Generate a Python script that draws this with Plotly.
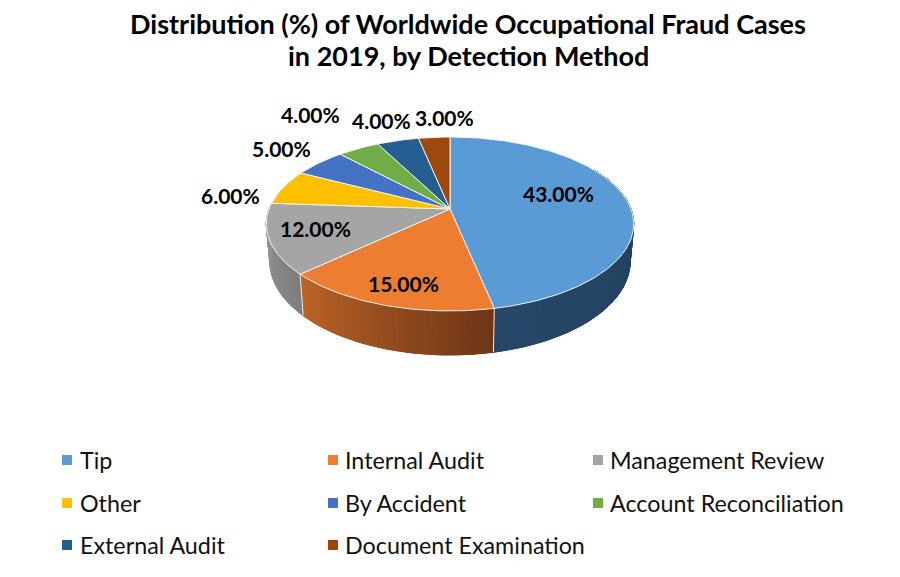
import math

import plotly.graph_objects as go

title_lines = [
    "Distribution (%) of Worldwide Occupational Fraud Cases",
    "in 2019, by Detection Method",
]

categories = [
    "Tip",
    "Internal Audit",
    "Management Review",
    "Other",
    "By Accident",
    "Account Reconciliation",
    "External Audit",
    "Document Examination",
]
values = [43, 15, 12, 6, 5, 4, 4, 3]

colors = ["#5B9BD5", "#ED7D31", "#A5A5A5", "#FFC000", "#4472C4", "#70AD47", "#255E91", "#9E480E"]
wall_left = ["#27476A", "#BD6428", "#9A9A9A"]
wall_right = ["#233E56", "#6C3616", "#7E7E7E"]

# picture geometry, in pixels of the 900x577 page
CX, CY = 450, 209
RX, RY = 181, 84.4
TILT = 0.172
DEPTH = 35.6
BOTTOM_SCALE = 0.98

label_xy = [(558, 193), (403, 283), (315, 228), (230, 195), (281, 148), (310, 114), (381, 120), (444, 117)]
legend_marker_x = [67, 333, 598]
legend_text_x = [78, 343, 608]
legend_y = [460, 503, 545]


def project(theta, bottom=False):
    u = math.sin(theta)
    v = -math.cos(theta)
    w = 1 - TILT * v
    x = RX * u / w
    y = RY * v / w
    if bottom:
        return CX + x * BOTTOM_SCALE, CY + y + DEPTH / w + 1
    return CX + x, CY + y


def hex_mix(a, b, t):
    parts = []
    for i in (1, 3, 5):
        c1 = int(a[i:i + 2], 16)
        c2 = int(b[i:i + 2], 16)
        parts.append(round(c1 + (c2 - c1) * t))
    return "rgb({},{},{})".format(*parts)


def add_poly(fig, points, color, line_color, width):
    fig.add_trace(go.Scatter(
        x=[q[0] for q in points],
        y=[q[1] for q in points],
        mode="lines",
        fill="toself",
        fillcolor=color,
        line=dict(color=line_color, width=width),
        hoverinfo="skip",
        showlegend=False,
    ))


total = sum(values)
edges = [0]
for v in values:
    edges.append(edges[-1] + v / total * 2 * math.pi)

fig = go.Figure()

# side walls first, the top face covers whatever sticks out
for i in range(3):
    start = max(edges[i], math.radians(60))
    end = min(edges[i + 1], math.radians(300))
    steps = max(2, int(math.degrees(end - start) / 1.5))
    angles = [start + (end - start) * s / steps for s in range(steps + 1)]

    base = [project(a) for a in angles] + [project(a, True) for a in reversed(angles)]
    mid = hex_mix(wall_left[i], wall_right[i], 0.5)
    add_poly(fig, base + base[:1], mid, mid, 1)

    for s in range(steps):
        a, b = angles[s], angles[s + 1]
        # walls run right to left as the angle grows
        color = hex_mix(wall_left[i], wall_right[i], 1 - (s + 0.5) / steps)
        p = [project(a), project(b), project(b, True), project(a, True), project(a)]
        add_poly(fig, p, color, color, 1)

for i in (1, 2):
    p = [project(edges[i]), project(edges[i], True)]
    fig.add_trace(go.Scatter(
        x=[q[0] for q in p],
        y=[q[1] for q in p],
        mode="lines",
        line=dict(color="#E8E8E8", width=1),
        hoverinfo="skip",
        showlegend=False,
    ))

# top face
for i, name in enumerate(categories):
    steps = max(2, int(math.degrees(edges[i + 1] - edges[i])))
    rim = [project(edges[i] + (edges[i + 1] - edges[i]) * s / steps) for s in range(steps + 1)]
    p = [(CX, CY)] + rim + [(CX, CY)]
    fig.add_trace(go.Scatter(
        x=[q[0] for q in p],
        y=[q[1] for q in p],
        mode="lines",
        fill="toself",
        fillcolor=colors[i],
        line=dict(color="#F2F2F2", width=1),
        name=name,
        text=f"{name}: {values[i]:.2f}%",
        hoverinfo="text",
        showlegend=False,
    ))

for (x, y), v in zip(label_xy, values):
    fig.add_annotation(
        x=x,
        y=y,
        text=f"{v:.2f}%",
        showarrow=False,
        font=dict(family="Lato", size=21, color="black", weight="bold"),
    )

# legend drawn by hand, plotly's own cannot do the row pitch or the key gap
for i, name in enumerate(categories):
    row, col = divmod(i, 3)
    fig.add_trace(go.Scatter(
        x=[legend_marker_x[col]],
        y=[legend_y[row]],
        mode="markers",
        marker=dict(symbol="square", size=10, color=colors[i]),
        name=name,
        hoverinfo="skip",
        showlegend=False,
    ))
    fig.add_annotation(
        x=legend_text_x[col],
        y=legend_y[row] - 0.5,
        xanchor="left",
        text=name,
        showarrow=False,
        font=dict(family="Lato", size=23.3, color="#111111"),
    )

for text, y in zip(title_lines, (23.5, 55.5)):
    fig.add_annotation(
        x=468,
        y=y,
        text=text,
        showarrow=False,
        font=dict(family="Lato", size=27, color="black", weight="bold"),
    )

fig.update_layout(
    width=900,
    height=577,
    margin=dict(l=0, r=0, t=0, b=0),
    paper_bgcolor="white",
    plot_bgcolor="white",
    showlegend=False,
    xaxis=dict(visible=False, range=[0, 900], fixedrange=True),
    yaxis=dict(visible=False, range=[577, 0], fixedrange=True),
)

fig.write_html(
    "out.html",
    config={"displayModeBar": False},
    post_script="document.body.style.margin='0';",
)
